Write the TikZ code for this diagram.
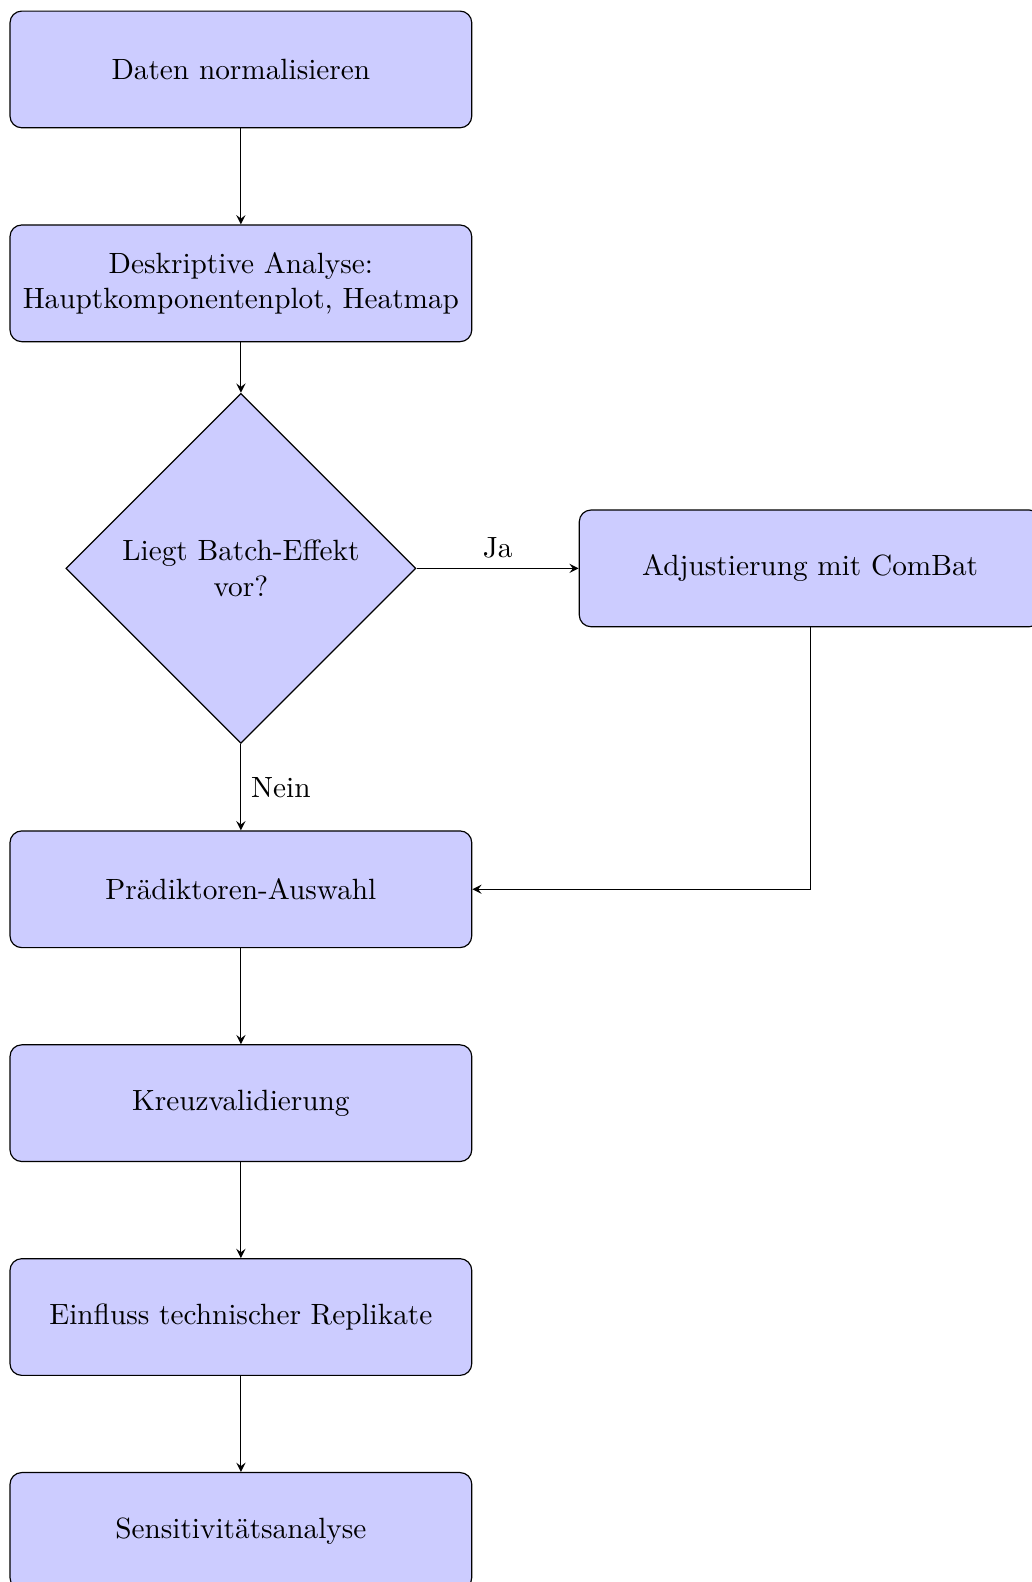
\documentclass[tikz,border=0pt]{standalone}
\usepackage{xcolor}
\usepackage{tikz}
\usetikzlibrary{positioning, shapes.geometric}

\begin{document}
\begin{tikzpicture}[>=stealth, node distance=2.566cm, on grid, auto,
    process/.style={rectangle, rounded corners, draw, fill=blue!20, minimum width=5.54cm, minimum height=1.4cm, text width=5.3cm, align=center},
    decision/.style={diamond, draw, fill=blue!20, aspect=1, minimum width=4.2cm, minimum height=4.2cm, inner sep=0pt, align=center}]
        \useasboundingbox (0,0) rectangle (12.38,-18.98);
        \node[process] (norm) at (2.89,-0.833) {Daten normalisieren};
        \node[process] (desc) [below=of norm] {Deskriptive Analyse:\\ Hauptkomponentenplot, Heatmap};
        \node[decision] (batch) [below=3.42 of desc] {Liegt Batch-Effekt\\ vor?};
        \node[process] (combat) [right=6.83 of batch] {Adjustierung mit ComBat};
        \node[process] (pred) [below=3.85 of batch] {Prädiktoren-Auswahl};
        \node[process] (cv) [below=of pred] {Kreuzvalidierung};
        \node[process] (rep) [below=of cv] {Einfluss technischer Replikate};
        \node[process] (sens) [below=of rep] {Sensitivitätsanalyse};

        \path[->]
        (norm) edge (desc)
        (desc) edge (batch)
        (batch) edge node {Ja} (combat)
                edge node {Nein} (pred)
        (pred) edge (cv)
        (cv) edge (rep)
        (rep) edge (sens);
        \draw[->] (combat) |- (pred);
\end{tikzpicture}
\end{document}
